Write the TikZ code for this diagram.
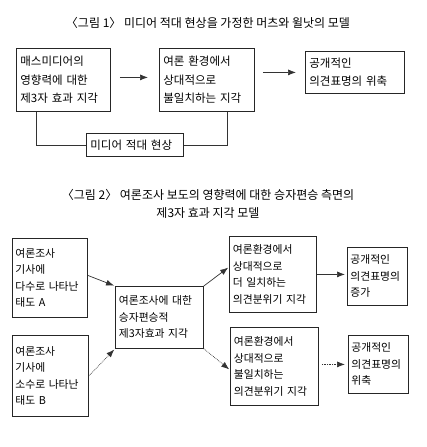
\documentclass[tikz,border=0pt]{standalone}
\usepackage{fontspec}
\setmainfont{Noto Sans CJK KR}
\usetikzlibrary{arrows.meta}
\begin{document}
\begin{tikzpicture}[x=1pt,y=-1pt,
  box/.style={draw=black!85, line width=0.8pt, inner ysep=0pt, inner xsep=4pt, align=left, anchor=north west},
  fa/.style={font=\fontsize{11.5}{18.5}\selectfont},
  fb/.style={font=\fontsize{10.8}{16.5}\selectfont},
  conn/.style={draw=black!80, line width=0.7pt},
  arr/.style={conn, -{Latex[length=8pt,width=6pt]}},
  dotarr/.style={arr, densely dotted}]
\useasboundingbox (0,0) rectangle (427,447);

% ---- Figure 1 ----
\node[font=\fontsize{12}{14}\selectfont] (t1) at (208,23) {〈그림 1〉 미디어 적대 현상을 가정한 머츠와 윌낫의 모델};

\node[box,fa,text width=86pt,minimum height=63pt] (A) at (16,48) {매스미디어의\\영향력에 대한\\제3자 효과 지각};
\node[box,fa,text width=87pt,minimum height=63pt] (B) at (159,48) {여론 환경에서\\상대적으로\\불일치하는 지각};
\node[box,fa,text width=91pt,minimum height=42pt] (C) at (305,51) {공개적인\\의견표명의 위축};
\node[box,fa,inner xsep=4pt,text width=89pt,minimum height=23pt] (L) at (86,133) {미디어 적대 현상};

\draw[arr,shorten <=9pt,shorten >=11pt] ([yshift=2.5pt]A.east) -- ([yshift=2.5pt]B.west);
\draw[arr,shorten <=8pt,shorten >=9pt] (B.east |- C.west) -- (C.west);
\draw[conn] ([xshift=20pt]A.south west) |- (L.west);
\draw[conn] (L.east) -| ([xshift=-27pt]B.south east);

% ---- Figure 2 ----
\node[align=center,font=\fontsize{12}{18}\selectfont] (t2) at (208,204) {〈그림 2〉 여론조사 보도의 영향력에 대한 승자편승 측면의\\제3자 효과 지각 모델};

\node[box,fb,inner xsep=3pt,text width=69pt,minimum height=79pt] (L1) at (12,238) {여론조사\\기사에\\다수로 나타난\\태도 A};
\node[box,fb,inner xsep=3pt,text width=70pt,minimum height=81pt] (L2) at (12,335) {여론조사\\기사에\\소수로 나타난\\태도 B};
\node[box,fb,inner xsep=3.5pt,text width=81pt,minimum height=62pt] (M) at (115,286) {여론조사에 대한\\승자편승적\\제3자효과 지각};
\node[box,fb,inner xsep=3.5pt,text width=80pt,minimum height=76pt] (R1) at (229,236) {여론환경에서\\상대적으로\\더 일치하는\\의견분위기 지각};
\node[box,fb,inner xsep=3.5pt,text width=81pt,minimum height=78pt] (R2) at (230,327) {여론환경에서\\상대적으로\\불일치하는\\의견분위기 지각};
\node[box,fb,inner xsep=3pt,text width=54pt,minimum height=58pt] (F1) at (347,247) {공개적인\\의견표명의\\증가};
\node[box,fb,inner xsep=3pt,text width=54pt,minimum height=58pt] (F2) at (348,335) {공개적인\\의견표명의\\위축};

\draw[arr,shorten >=1pt] ([yshift=2.5pt]L1.east) -- (M.north west);
\draw[dotarr,shorten >=1pt] (L2.east) -- (M.south west);
\draw[arr,shorten >=1pt] (M.north east) -- ([yshift=-31pt]R1.north west);
\draw[dotarr,shorten >=1pt] (M.south east) -- ([yshift=-43pt]R2.north west);
\draw[arr,shorten >=2pt] (R1.east) -- (R1.east -| F1.west);
\draw[dotarr,shorten <=3pt,shorten >=3pt] (F2.west -| R2.east) -- (F2.west);
\end{tikzpicture}
\end{document}
